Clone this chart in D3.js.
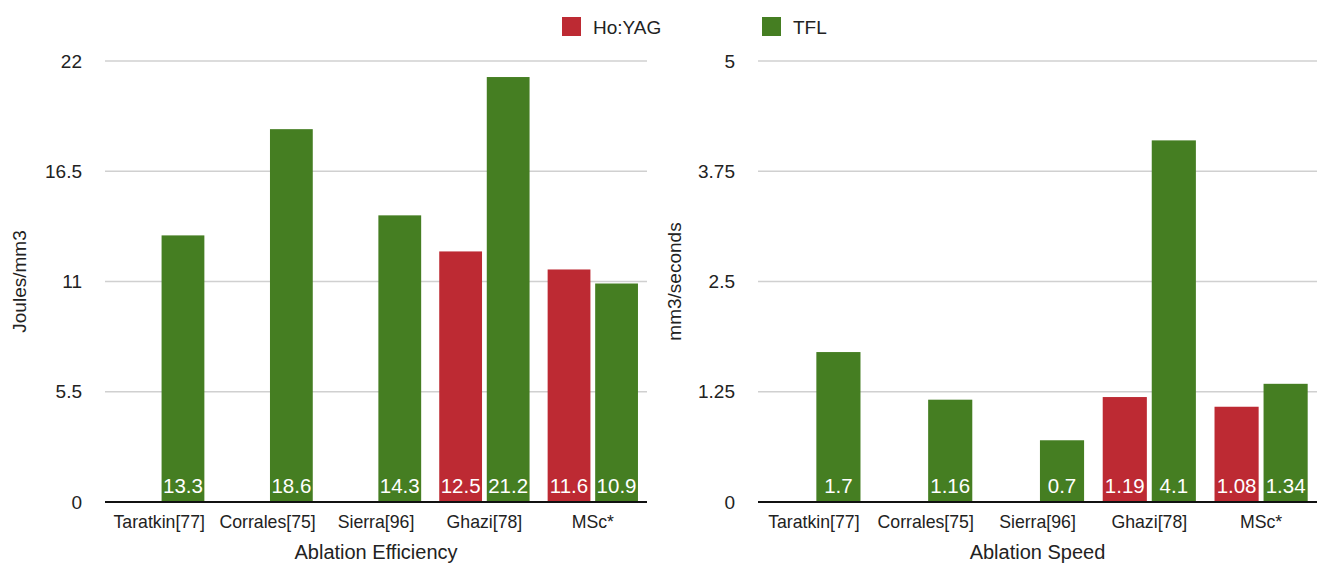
<!DOCTYPE html>
<html><head><meta charset="utf-8">
<script src="https://cdn.jsdelivr.net/npm/d3@7"></script>
<style>
html,body{margin:0;padding:0;background:#fff;}
svg{display:block;font-family:"Liberation Sans",Arial,Helvetica,sans-serif;}
</style></head>
<body>
<svg id="c" width="1318" height="564"></svg>
<script>
const categories = ["Taratkin[77]", "Corrales[75]", "Sierra[96]", "Ghazi[78]", "MSc*"];
const seriesNames = ["Ho:YAG", "TFL"];
const seriesColors = ["#bd2a33", "#457e22"];
const efficiencyHoYAG = [null, null, null, 12.5, 11.6];
const efficiencyTFL = [13.3, 18.6, 14.3, 21.2, 10.9];
const speedHoYAG = [null, null, null, 1.19, 1.08];
const speedTFL = [1.7, 1.16, 0.7, 4.1, 1.34];
const efficiencyTicks = [0, 5.5, 11, 16.5, 22];
const speedTicks = [0, 1.25, 2.5, 3.75, 5];

const svg = d3.select("#c");

function panel(opt) {
  const {x0, x1, y0, y1, ticks, yMax, series, xTitle, yTitle, yTitleX, labelFmt} = opt;
  const g = svg.append("g");
  const x = d3.scaleBand().domain(categories).range([x0, x1]);
  const y = d3.scaleLinear().domain([0, yMax]).range([y1, y0]);

  // gridlines
  g.append("g").selectAll("line").data(ticks.filter(t => t !== 0)).join("line")
    .attr("x1", x0).attr("x2", x1)
    .attr("y1", d => y(d)).attr("y2", d => y(d))
    .attr("stroke", "#d0d0d0").attr("stroke-width", 1.5);

  // y axis tick labels
  const yAxis = d3.axisLeft(y).tickValues(ticks).tickSize(0).tickPadding(23)
    .tickFormat(d => String(d));
  const ya = g.append("g").attr("transform", `translate(${x0},0)`).call(yAxis);
  ya.select(".domain").remove();
  ya.selectAll("text").attr("font-size", 19).attr("fill", "#222")
    .attr("font-family", "'Liberation Sans',Arial,sans-serif");

  // bars
  const inner = d3.scaleBand().domain([0, 1]).range([0, x.bandwidth()])
    .paddingOuter(0.19).paddingInner(0.1);
  series.forEach((vals, si) => {
    const data = categories.map((c, i) => ({c, v: vals[i]})).filter(d => d.v != null);
    g.append("g").selectAll("rect").data(data).join("rect")
      .attr("x", d => x(d.c) + inner(si))
      .attr("width", inner.bandwidth())
      .attr("y", d => y(d.v))
      .attr("height", d => y(0) - y(d.v))
      .attr("fill", seriesColors[si]);
    g.append("g").selectAll("text").data(data).join("text")
      .attr("x", d => x(d.c) + inner(si) + inner.bandwidth() / 2)
      .attr("y", y(0) - 9)
      .attr("text-anchor", "middle")
      .attr("font-size", 20.5)
      .attr("fill", "#fff")
      .text(d => labelFmt(d.v));
  });

  // baseline
  g.append("line").attr("x1", x0).attr("x2", x1).attr("y1", y(0)).attr("y2", y(0))
    .attr("stroke", "#111").attr("stroke-width", 2);

  // x axis labels
  const xAxis = d3.axisBottom(x).tickSize(0).tickPadding(13);
  const xa = g.append("g").attr("transform", `translate(0,${y(0)})`).call(xAxis);
  xa.select(".domain").remove();
  xa.selectAll("text").attr("font-size", 17.7).attr("fill", "#222")
    .attr("font-family", "'Liberation Sans',Arial,sans-serif");

  // titles
  g.append("text").attr("x", (x0 + x1) / 2).attr("y", 559)
    .attr("text-anchor", "middle").attr("font-size", 20).attr("fill", "#222").text(xTitle);
  g.append("text").attr("transform", `translate(${yTitleX},${(y0 + y1) / 2}) rotate(-90)`)
    .attr("text-anchor", "middle").attr("font-size", 19).attr("fill", "#222").text(yTitle);
}

panel({x0: 105, x1: 647, y0: 61, y1: 502, ticks: efficiencyTicks, yMax: 22,
  series: [efficiencyHoYAG, efficiencyTFL], xTitle: "Ablation Efficiency", yTitle: "Joules/mm3",
  yTitleX: 26, labelFmt: d => String(d)});
panel({x0: 758, x1: 1317, y0: 61, y1: 502, ticks: speedTicks, yMax: 5,
  series: [speedHoYAG, speedTFL], xTitle: "Ablation Speed", yTitle: "mm3/seconds",
  yTitleX: 681, labelFmt: d => String(d)});

// legend
const legendX = [562, 762];
const lg = svg.append("g").selectAll("g").data(seriesNames).join("g")
  .attr("transform", (d, i) => `translate(${legendX[i]},17)`);
lg.append("rect").attr("width", 19).attr("height", 19).attr("fill", (d, i) => seriesColors[i]);
lg.append("text").attr("x", 31).attr("y", 16.5).attr("font-size", 19).attr("fill", "#222").text(d => d);
</script>
</body></html>
